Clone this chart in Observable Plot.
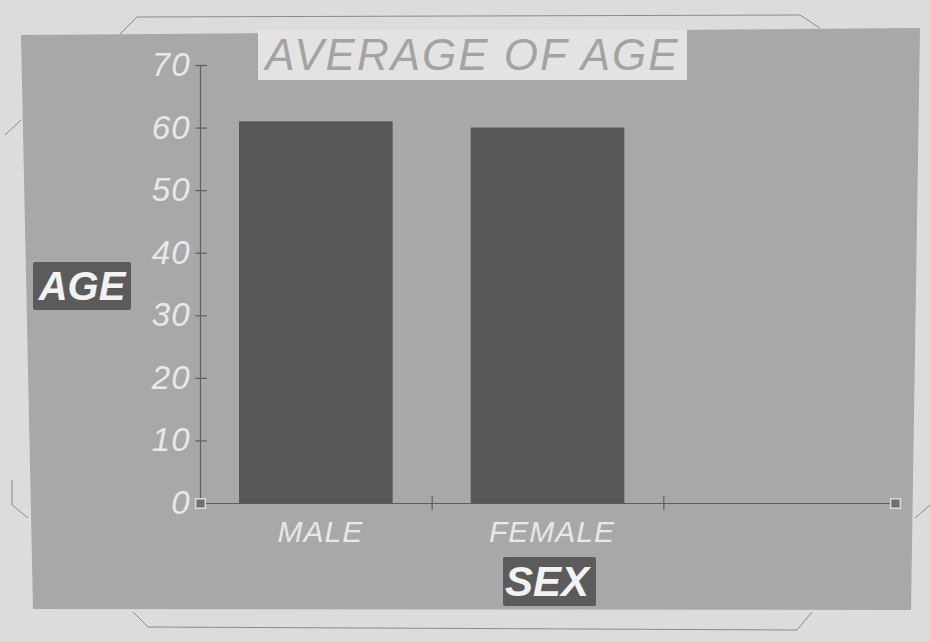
<!DOCTYPE html>
<html>
<head>
<meta charset="utf-8">
<script src="https://cdn.jsdelivr.net/npm/d3@7"></script>
<script src="https://cdn.jsdelivr.net/npm/@observablehq/plot@0.6"></script>
<style>
  html, body { margin: 0; padding: 0; background: #dcdcdc; }
  #wrap { position: relative; width: 930px; height: 641px; overflow: hidden; background: #dcdcdc; font-family: "Liberation Sans", Arial, sans-serif; }
  #screen { position: absolute; left: 0; top: 0; width: 930px; height: 641px; background: #a8a8a8;
    clip-path: polygon(21px 35px, 920px 28px, 911px 610px, 33px 609px); }
  #bezel { position: absolute; left: 0; top: 0; }
  #chart { position: absolute; left: 0; top: 0; }
  #chart text { letter-spacing: 1px; }
  .title { position: absolute; left: 258px; top: 30px; width: 429px; height: 50px; background: #e3e3e3;
    color: #a3a3a3; font-size: 44px; font-style: italic; line-height: 50px; text-align: center; letter-spacing: 2px; white-space: nowrap; }
  .lab { position: absolute; background: #5b5b5b; color: #f2f2f2; font-weight: bold; font-style: italic; text-align: center; white-space: nowrap; overflow: hidden; border-radius: 2px; }
  #ylab { left: 33px; top: 262px; width: 98px; height: 48px; font-size: 40px; line-height: 48px; }
  #xlab { left: 503px; top: 557px; width: 93px; height: 49px; font-size: 42px; line-height: 49px; text-align: left; padding-left: 2px; box-sizing: border-box; }
</style>
</head>
<body>
<div id="wrap">
  <div id="screen"></div>
  <svg id="bezel" width="930" height="641">
    <polyline points="120,34 137,17 800,15 820,28" fill="none" stroke="#8a8a8a" stroke-width="1"/>
    <polyline points="21,120 5,135" fill="none" stroke="#8a8a8a" stroke-width="1"/>
    <polyline points="12,480 12,505 28,518" fill="none" stroke="#8a8a8a" stroke-width="1"/>
    <polyline points="133,612 148,627 797,630 812,612" fill="none" stroke="#8a8a8a" stroke-width="1"/>
    <polyline points="915,518 930,505" fill="none" stroke="#8a8a8a" stroke-width="1"/>
  </svg>
  <div id="chart"></div>
  <div class="title">AVERAGE OF AGE</div>
  <div class="lab" id="ylab">AGE</div>
  <div class="lab" id="xlab">SEX</div>
</div>
<script>
const categories = ["MALE", "FEMALE"];
const averageAge = [61, 60];
const yTicks = [0, 10, 20, 30, 40, 50, 60, 70];
const xDividers = [1, 2];
const axisEnds = [0, 3];

const bars = categories.map((c, i) => ({category: c, index: i, age: averageAge[i]}));

const plot = Plot.plot({
  width: 930,
  height: 641,
  marginLeft: 200,
  marginRight: 35,
  marginTop: 65,
  marginBottom: 138,
  style: {background: "transparent", fontFamily: "Liberation Sans, Arial, sans-serif"},
  x: {domain: [0, 3], axis: null},
  y: {domain: [0, 70], axis: null},
  marks: [
    Plot.rectY(bars, {x1: d => d.index, x2: d => d.index + 1, y1: 0, y2: "age", insetLeft: 39, insetRight: 39, fill: "#575757"}),
    Plot.ruleY([0], {x1: 0, x2: 3, stroke: "#5e5e5e", strokeWidth: 1.2}),
    Plot.ruleX([0], {y1: 0, y2: 70, stroke: "#5e5e5e", strokeWidth: 1.2}),
    Plot.ruleY(yTicks, {y: d => d, x1: -0.02, x2: 0.03, stroke: "#5e5e5e", strokeWidth: 1.2}),
    Plot.ruleX(xDividers, {x: d => d, y1: -1.1, y2: 1.1, stroke: "#5e5e5e", strokeWidth: 1.2}),
    Plot.dot(axisEnds, {x: d => d, y: 0, symbol: "square", r: 5.5, fill: "#707070", stroke: "#dcdcdc", strokeWidth: 1.5}),
    Plot.text(yTicks, {x: 0, y: d => d, text: d => String(d), dx: -10, textAnchor: "end", fontSize: 33, fontStyle: "italic", fill: "#e8e8e8"}),
    Plot.text(bars, {x: d => d.index + 0.5, y: 0, text: "category", dy: 29, dx: 4, fontSize: 30, fontStyle: "italic", fill: "#e8e8e8"})
  ]
});
document.getElementById("chart").appendChild(plot);
</script>
</body>
</html>
